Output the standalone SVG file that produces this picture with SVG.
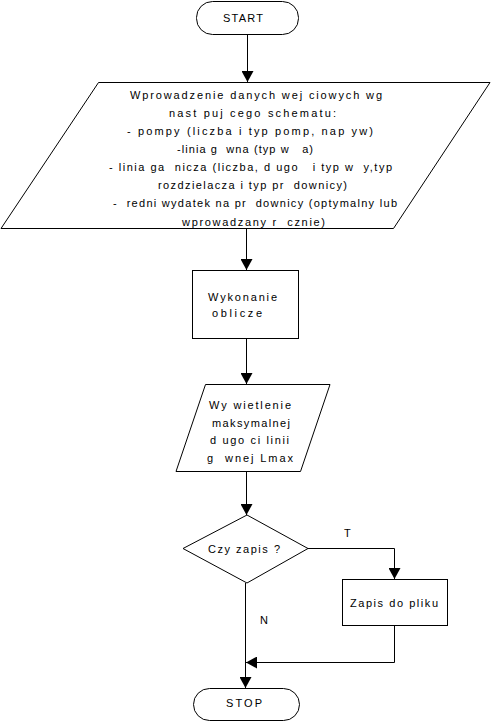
<svg xmlns="http://www.w3.org/2000/svg" width="491" height="722" viewBox="0 0 491 722">
<style>
.s{fill:#fff;stroke:#000;stroke-width:1}
.c{fill:none;stroke:#000;stroke-width:1}
text{font-family:"Liberation Sans",Arial,sans-serif;font-size:11px;fill:#000}
</style>
<defs>
<marker id="ah" markerUnits="userSpaceOnUse" markerWidth="12" markerHeight="12" refX="11" refY="6" orient="auto">
<path d="M0,0 L11,6 L0,12 z" fill="#000"/>
</marker>
</defs>
<rect width="491" height="722" fill="#fff"/>
<g id="connectors">
<path class="c" d="M247.5,35 V82" marker-end="url(#ah)"/>
<path class="c" d="M246.5,228 V270" marker-end="url(#ah)"/>
<path class="c" d="M246.5,339 V384" marker-end="url(#ah)"/>
<path class="c" d="M246.5,471 V515" marker-end="url(#ah)"/>
<path class="c" d="M308,548.5 H394.5 V579" marker-end="url(#ah)"/>
<path class="c" d="M394.5,625 V662.5 H246" marker-end="url(#ah)"/>
<path class="c" d="M245.5,583 V688" marker-end="url(#ah)"/>
<text x="344" y="537">T</text>
<text x="260" y="624">N</text>
</g>
<g id="start">
<rect class="s" x="196.5" y="1.5" width="102" height="33" rx="16" ry="16"/>
<text x="223" y="22" textLength="40" lengthAdjust="spacing">START</text>
</g>
<g id="input">
<polygon class="s" points="98.5,82.5 490,82.5 393.5,228.5 1,228.5"/>
<text xml:space="preserve" x="130" y="99" textLength="252" lengthAdjust="spacing">Wprowadzenie danych wej ciowych wg</text>
<text xml:space="preserve" x="169" y="117" textLength="167" lengthAdjust="spacing">nast puj cego schematu:</text>
<text xml:space="preserve" x="127" y="135" textLength="246" lengthAdjust="spacing">- pompy (liczba i typ pomp, nap yw)</text>
<text xml:space="preserve" x="177" y="153" textLength="136" lengthAdjust="spacing">-linia g  wna (typ w   a)</text>
<text xml:space="preserve" x="109" y="171" textLength="283" lengthAdjust="spacing">- linia ga  nicza (liczba, d ugo   i typ w  y,typ</text>
<text xml:space="preserve" x="158" y="189" textLength="189" lengthAdjust="spacing">rozdzielacza i typ pr  downicy)</text>
<text xml:space="preserve" x="113" y="207" textLength="284" lengthAdjust="spacing">-  redni wydatek na pr  downicy (optymalny lub</text>
<text xml:space="preserve" x="182" y="226" textLength="143" lengthAdjust="spacing">wprowadzany r  cznie)</text>
</g>
<g id="calc">
<rect class="s" x="192.5" y="270.5" width="106" height="68"/>
<text x="208" y="301" textLength="69" lengthAdjust="spacing">Wykonanie</text>
<text x="212" y="317" textLength="50" lengthAdjust="spacing">oblicze</text>
</g>
<g id="display">
<polygon class="s" points="205.5,384.5 330,384.5 300.5,471.5 176,471.5"/>
<text xml:space="preserve" x="209" y="409" textLength="82" lengthAdjust="spacing">Wy wietlenie</text>
<text x="212" y="427" textLength="78" lengthAdjust="spacing">maksymalnej</text>
<text xml:space="preserve" x="210" y="444" textLength="79" lengthAdjust="spacing">d ugo ci linii</text>
<text xml:space="preserve" x="207" y="462" textLength="86" lengthAdjust="spacing">g  wnej Lmax</text>
</g>
<g id="decision">
<polygon class="s" points="247,515 308,548.5 247,583 183,548.5"/>
<text x="208" y="553" textLength="72" lengthAdjust="spacing">Czy zapis ?</text>
</g>
<g id="save">
<rect class="s" x="342.5" y="579.5" width="105" height="46"/>
<text x="350" y="607" textLength="88" lengthAdjust="spacing">Zapis do pliku</text>
</g>
<g id="stop">
<rect class="s" x="193.5" y="688.5" width="106" height="32" rx="16" ry="16"/>
<text x="226" y="707" textLength="36" lengthAdjust="spacing">STOP</text>
</g>
</svg>
